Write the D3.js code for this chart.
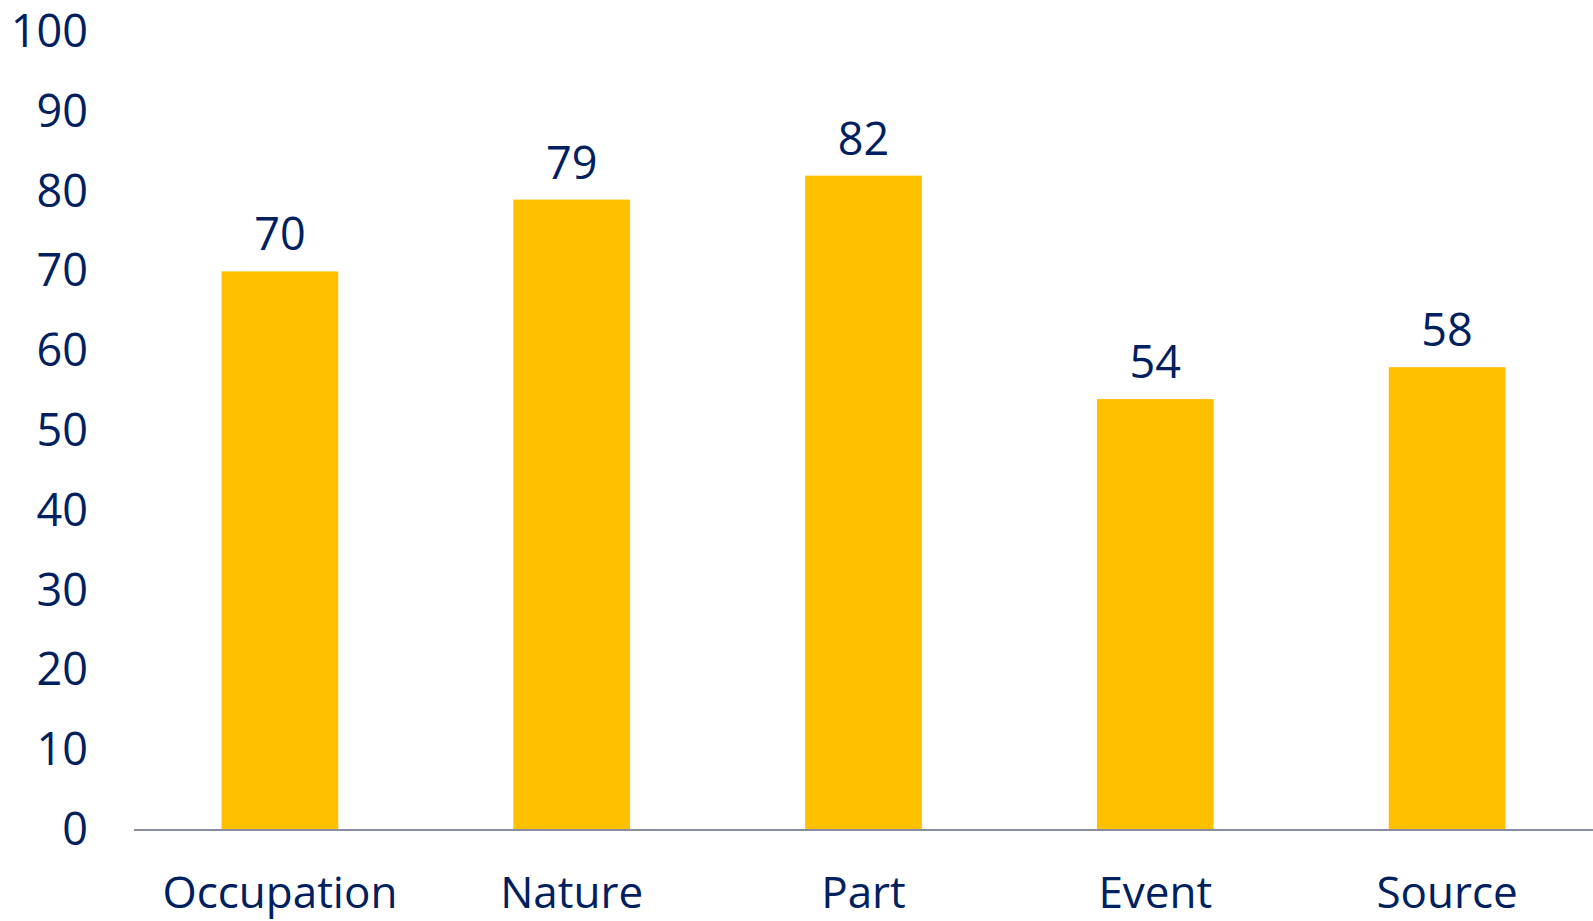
<!DOCTYPE html>
<html>
<head>
<meta charset="utf-8">
<script src="https://cdn.jsdelivr.net/npm/d3@7"></script>
<style>
  html, body { margin: 0; padding: 0; background: #fff; }
  svg { display: block; }
  text { font-family: "Open Sans", sans-serif; fill: #002060; }
</style>
</head>
<body>
<svg id="chart" width="1593" height="921"></svg>
<script>
const categories = ["Occupation", "Nature", "Part", "Event", "Source"];
const values = [70, 79, 82, 54, 58];
const yTicks = [0, 10, 20, 30, 40, 50, 60, 70, 80, 90, 100];

const svg = d3.select("#chart");
const plotLeft = 134, plotRight = 1593, plotTop = 32, plotBottom = 830;

const x = d3.scaleBand().domain(categories).range([plotLeft, plotRight])
  .paddingInner(0.6).paddingOuter(0.3);
const y = d3.scaleLinear().domain([0, 100]).range([plotBottom, plotTop]);

// bars
svg.append("g").selectAll("rect").data(categories).join("rect")
  .attr("x", d => x(d))
  .attr("width", x.bandwidth())
  .attr("y", (d, i) => y(values[i]))
  .attr("height", (d, i) => plotBottom - y(values[i]))
  .attr("fill", "#FFC000");

// value labels
svg.append("g").selectAll("text").data(categories).join("text")
  .attr("x", d => x(d) + x.bandwidth() / 2)
  .attr("y", (d, i) => y(values[i]) - 21)
  .attr("text-anchor", "middle")
  .attr("font-size", 45)
  .text((d, i) => values[i]);

// y axis (labels only)
const yAxis = d3.axisLeft(y).tickValues(yTicks).tickSize(0).tickPadding(0);
const gy = svg.append("g").attr("transform", "translate(88,0)").call(yAxis);
gy.select(".domain").remove();
gy.selectAll("text").attr("font-size", 45).attr("font-family", "Open Sans, sans-serif")
  .attr("fill", "#002060").attr("dy", "0.32em");

// x axis
const xAxis = d3.axisBottom(x).tickSize(0).tickPadding(0);
const gx = svg.append("g").attr("transform", `translate(0,${plotBottom})`).call(xAxis);
gx.select(".domain").attr("stroke", "#888ca0").attr("stroke-width", 2)
  .attr("d", `M${plotLeft},0H${plotRight}`);
gx.selectAll("text").attr("font-size", 44).attr("font-family", "Open Sans, sans-serif")
  .attr("fill", "#002060").attr("dy", 0).attr("y", 78);
</script>
</body>
</html>
